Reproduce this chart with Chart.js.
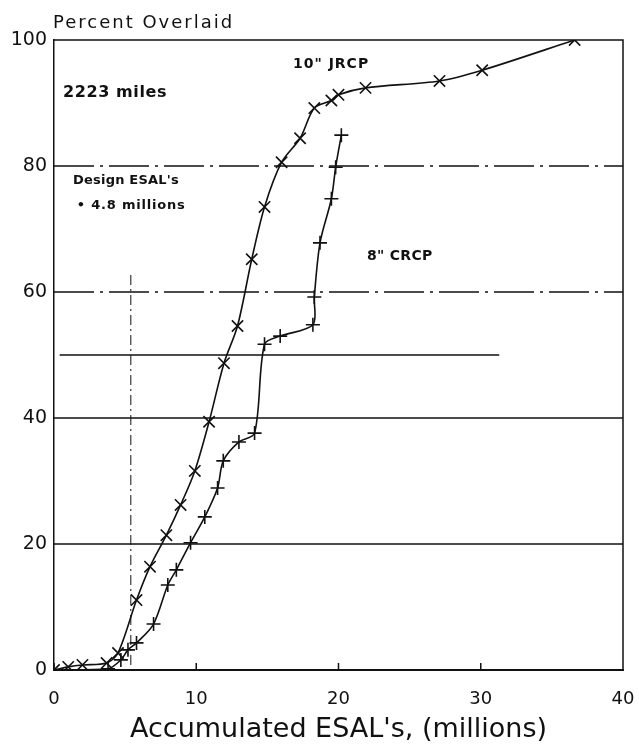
<!DOCTYPE html>
<html>
<head>
<meta charset="utf-8">
<script src="https://cdn.jsdelivr.net/npm/chart.js@4.4.1/dist/chart.umd.min.js"></script>
<style>
  html, body { margin: 0; padding: 0; background: #fff; }
  #wrap { width: 639px; height: 748px; }
</style>
</head>
<body>
<div id="wrap"><canvas id="chart"></canvas></div>
<script>
// 10" JRCP (x markers)
const jrcpEsal = [0, 1.0, 2.0, 3.7, 4.5, 5.8, 6.75, 7.9, 8.9, 9.9, 10.9, 11.95, 12.9, 13.9, 14.8, 16.0, 17.3, 18.3, 19.5, 20.0, 21.9, 27.1, 30.1, 36.6];
const jrcpPct  = [0, 0.5, 0.8, 1.1, 2.7, 11.1, 16.4, 21.4, 26.2, 31.6, 39.4, 48.7, 54.6, 65.2, 73.5, 80.6, 84.4, 89.2, 90.4, 91.3, 92.4, 93.5, 95.2, 100];

// 8" CRCP (+ markers)
const crcpEsal = [0, 3.8, 4.7, 5.2, 5.8, 7.0, 8.0, 8.6, 9.6, 10.6, 11.5, 11.9, 13.0, 14.1, 14.8, 15.9, 18.2, 18.3, 18.7, 19.5, 19.8, 20.2];
const crcpPct  = [0, 0.2, 1.6, 3.2, 4.3, 7.3, 13.5, 15.9, 20.2, 24.3, 28.9, 33.2, 36.2, 37.6, 51.7, 53.0, 54.8, 59.2, 67.8, 74.8, 79.8, 84.9];

const xTicks = [0, 10, 20, 30, 40];
const yTicks = [0, 20, 40, 60, 80, 100];

// reference lines
const solidLevels = [20, 40];
const dashLevels = [60, 80];
const shortLevel = 50, shortLevelFrom = 0.4, shortLevelTo = 31.3;
const designEsal = 5.4, designTop = 62.7;

// notes inside the plot: text, left x value, baseline y value
const notes = [
  { text: '2223 miles', x: 0.63, y: 90.9, size: 16, spacing: 0.6 },
  { text: '10" JRCP', x: 16.8, y: 95.6, size: 14, spacing: 1 },
  { text: "Design ESAL's", x: 1.34, y: 77.1, size: 13, spacing: 0.2 },
  { text: '\u2022 4.8 millions', x: 1.6, y: 73.2, size: 13, spacing: 0.8 },
  { text: '8" CRCP', x: 22.0, y: 65.1, size: 14, spacing: 0.3 }
];

const ink = '#111';

const toPoints = (xs, ys) => xs.map((x, i) => ({ x: x, y: ys[i] }));

const paperPlugin = {
  id: 'paper',
  beforeDatasetsDraw(chart) {
    const { ctx, chartArea: a, scales: { x, y } } = chart;
    ctx.save();
    ctx.strokeStyle = ink;
    ctx.lineWidth = 1.5;
    solidLevels.forEach(v => {
      const py = y.getPixelForValue(v);
      ctx.beginPath(); ctx.moveTo(a.left, py); ctx.lineTo(a.right, py); ctx.stroke();
    });
    ctx.setLineDash([40, 6, 3, 6]);
    dashLevels.forEach(v => {
      const py = y.getPixelForValue(v);
      ctx.beginPath(); ctx.moveTo(a.left, py); ctx.lineTo(a.right, py); ctx.stroke();
    });
    ctx.setLineDash([]);
    let py = y.getPixelForValue(shortLevel);
    ctx.beginPath(); ctx.moveTo(x.getPixelForValue(shortLevelFrom), py); ctx.lineTo(x.getPixelForValue(shortLevelTo), py); ctx.stroke();
    // design ESAL line
    ctx.lineWidth = 1;
    ctx.setLineDash([10, 4, 2, 4]);
    const px = x.getPixelForValue(designEsal);
    ctx.beginPath(); ctx.moveTo(px, y.getPixelForValue(designTop)); ctx.lineTo(px, a.bottom); ctx.stroke();
    ctx.setLineDash([]);
    // top and right frame
    ctx.lineWidth = 1.5;
    ctx.beginPath(); ctx.moveTo(a.left, a.top); ctx.lineTo(a.right, a.top); ctx.lineTo(a.right, a.bottom); ctx.stroke();
    // small inward ticks on x axis
    xTicks.slice(1, -1).forEach(v => {
      const tx = x.getPixelForValue(v);
      ctx.beginPath(); ctx.moveTo(tx, a.bottom); ctx.lineTo(tx, a.bottom - 7); ctx.stroke();
    });
    ctx.restore();
  },
  afterDraw(chart) {
    const { ctx, chartArea: a, scales: { x, y } } = chart;
    ctx.save();
    ctx.fillStyle = ink;
    ctx.textBaseline = 'alphabetic';
    ctx.textAlign = 'left';
    ctx.font = '18px "DejaVu Sans"';
    ctx.letterSpacing = '2px';
    ctx.fillText('Percent Overlaid', a.left - 1, a.top - 12);
    notes.forEach(n => {
      ctx.font = 'bold ' + n.size + 'px "DejaVu Sans"';
      ctx.letterSpacing = n.spacing + 'px';
      ctx.fillText(n.text, x.getPixelForValue(n.x), y.getPixelForValue(n.y));
    });
    ctx.restore();
  }
};

new Chart(document.getElementById('chart'), {
  type: 'line',
  data: {
    datasets: [
      {
        label: '10" JRCP',
        data: toPoints(jrcpEsal, jrcpPct),
        borderColor: ink,
        borderWidth: 1.6,
        pointStyle: 'crossRot',
        pointRadius: 8,
        pointBorderWidth: 1.6,
        pointBorderColor: ink,
        tension: 0.3
      },
      {
        label: '8" CRCP',
        data: toPoints(crcpEsal, crcpPct),
        borderColor: ink,
        borderWidth: 1.6,
        pointStyle: 'cross',
        pointRadius: 7,
        pointBorderWidth: 1.6,
        pointBorderColor: ink,
        tension: 0.3
      }
    ]
  },
  options: {
    responsive: true,
    maintainAspectRatio: false,
    animation: false,
    layout: { padding: { top: 40, right: 16, left: 0, bottom: 0 } },
    plugins: {
      legend: { display: false },
      tooltip: { enabled: false }
    },
    scales: {
      x: {
        type: 'linear',
        min: 0,
        max: 40,
        afterBuildTicks: s => { s.ticks = xTicks.map(v => ({ value: v })); },
        afterFit: s => { s.height = 78; s.paddingLeft = 0; s.paddingRight = 0; },
        ticks: { color: ink, font: { family: 'DejaVu Sans', size: 18 }, padding: 19, maxRotation: 0 },
        grid: { display: false, drawTicks: false },
        border: { color: ink, width: 2 },
        title: {
          display: true,
          text: "Accumulated ESAL's, (millions)",
          color: ink,
          font: { family: 'DejaVu Sans', size: 27 },
          padding: { top: 4, bottom: 2 }
        }
      },
      y: {
        min: 0,
        max: 100,
        afterBuildTicks: s => { s.ticks = yTicks.map(v => ({ value: v })); },
        afterFit: s => { s.width = 54; s.paddingTop = 0; s.paddingBottom = 0; },
        ticks: { color: ink, font: { family: 'DejaVu Sans', size: 19 }, padding: 7 },
        grid: { display: false, drawTicks: false },
        border: { color: ink, width: 1.5 }
      }
    }
  },
  plugins: [paperPlugin]
});
</script>
</body>
</html>
